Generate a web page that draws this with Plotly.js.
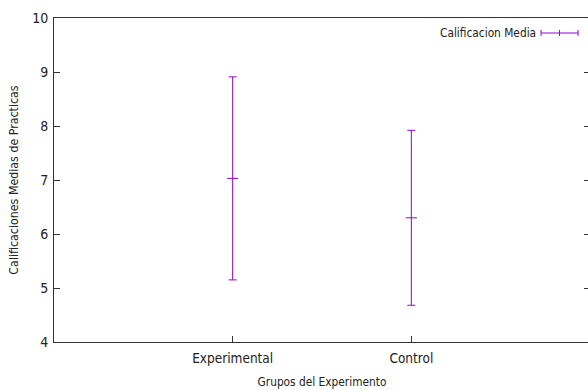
<!DOCTYPE html>
<html>
<head>
<meta charset="utf-8">
<script src="https://cdn.plot.ly/plotly-3.0.1.min.js"></script>
<style>html,body{margin:0;padding:0;overflow:hidden;background:#fff;width:588px;height:390px}</style>
</head>
<body>
<div id="chart" style="width:590px;height:390px"></div>
<script>
var groups = ['Experimental', 'Control'];
var groupPos = [1, 2];
var means = [7.03, 6.30];
var errors = [1.88, 1.62];
var yTicks = [4, 5, 6, 7, 8, 9, 10];
var seriesName = 'Calificacion Media';

var purple = '#9400d3';
var fontFam = '"DejaVu Sans Condensed", "Liberation Sans", Arial, sans-serif';

var trace = {
  x: groupPos,
  y: means,
  type: 'scatter',
  mode: 'markers',
  name: seriesName,
  showlegend: false,
  marker: {symbol: 'line-ew', size: 8, line: {color: purple, width: 1}, color: purple},
  error_y: {type: 'data', array: errors, visible: true, color: purple, thickness: 1, width: 4}
};

// legend sample (paper coordinates)
var ly = 0.9537;
var lx0 = 0.9087, lx1 = 0.9777, lxm = (lx0 + lx1) / 2, th = 0.0093;
var legendShapes = [
  {type: 'line', xref: 'paper', yref: 'paper', x0: lx0, x1: lx1, y0: ly, y1: ly, line: {color: purple, width: 1}},
  {type: 'line', xref: 'paper', yref: 'paper', x0: lx0, x1: lx0, y0: ly - th, y1: ly + th, line: {color: purple, width: 1}},
  {type: 'line', xref: 'paper', yref: 'paper', x0: lxm, x1: lxm, y0: ly - th, y1: ly + th, line: {color: purple, width: 1}},
  {type: 'line', xref: 'paper', yref: 'paper', x0: lx1, x1: lx1, y0: ly - th, y1: ly + th, line: {color: purple, width: 1}}
];

var layout = {
  width: 590,
  height: 390,
  margin: {l: 53.5, r: 0, t: 18, b: 48, pad: 0},
  paper_bgcolor: '#fff',
  plot_bgcolor: '#fff',
  font: {family: fontFam, color: '#222', size: 12},
  showlegend: false,
  xaxis: {
    range: [0, 3],
    tickvals: groupPos,
    ticktext: groups,
    ticks: 'inside',
    ticklen: 6,
    tickcolor: '#333',
    showline: true,
    linecolor: '#333',
    linewidth: 1,
    mirror: true,
    showgrid: false,
    zeroline: false,
    ticklabelstandoff: 4,
    tickfont: {size: 13.5, family: fontFam, color: '#222'},
    title: {text: 'Grupos del Experimento', font: {size: 11.8, family: fontFam, color: '#222'}, standoff: 12}
  },
  yaxis: {
    range: [4, 10],
    tickvals: yTicks,
    ticktext: yTicks.map(String),
    ticks: 'inside',
    ticklen: 6,
    tickcolor: '#333',
    showline: true,
    linecolor: '#333',
    linewidth: 1,
    mirror: 'ticks',
    showgrid: false,
    zeroline: false,
    ticklabelstandoff: 2,
    tickfont: {size: 14, family: fontFam, color: '#222'},
    title: {text: 'Calificaciones Medias de Practicas', font: {size: 12.3, family: fontFam, color: '#222'}, standoff: 10}
  },
  shapes: legendShapes,
  annotations: [{
    xref: 'paper', yref: 'paper', x: 0.9035, y: ly, xanchor: 'right', yanchor: 'middle',
    text: seriesName, showarrow: false, font: {size: 11.8, family: fontFam, color: '#222'}
  }]
};

Plotly.newPlot('chart', [trace], layout, {displayModeBar: false, staticPlot: true});
</script>
</body>
</html>
